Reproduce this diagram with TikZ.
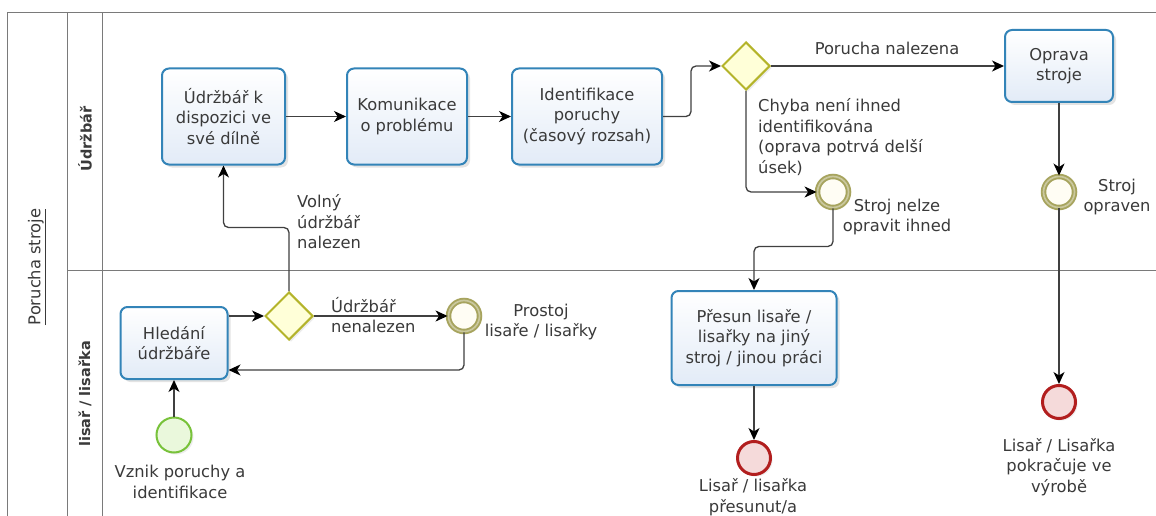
\documentclass[tikz,border=0pt]{standalone}
\usepackage{fontspec}
\setmainfont{DejaVu Sans}
\usetikzlibrary{arrows.meta,shadows,shapes.geometric,calc}

\definecolor{txt}{HTML}{3A3A3A}
\definecolor{poolline}{HTML}{7A7A7A}
\definecolor{taskline}{HTML}{3384B8}
\definecolor{taskfill}{HTML}{E2EBF7}
\definecolor{gwline}{HTML}{B4B42A}
\definecolor{gwfill}{HTML}{FFFFD8}
\definecolor{evline}{HTML}{A7A45E}
\definecolor{evfill}{HTML}{FFFDF4}
\definecolor{startline}{HTML}{78C23A}
\definecolor{startfill}{HTML}{EAF8DC}
\definecolor{endline}{HTML}{B21E1E}
\definecolor{endfill}{HTML}{F5DADA}
\definecolor{flow}{HTML}{404040}

\tikzset{
  lbl/.style={font=\fontsize{16.3}{20.5}\selectfont, text=txt, inner sep=0pt, align=center},
  lanelbl/.style={font=\fontsize{14.5}{18}\selectfont\bfseries, text=txt, rotate=90, inner sep=0pt},
  task/.style={draw=taskline, line width=2pt, rounded corners=7pt,
    top color=white, bottom color=taskfill,
    drop shadow={opacity=0.22, shadow xshift=3pt, shadow yshift=-3pt},
    font=\fontsize{16.3}{20.5}\selectfont, text=txt, align=center, inner sep=2pt},
  gateway/.style={diamond, aspect=1, draw=gwline, line width=2pt, fill=gwfill,
    minimum width=48pt, minimum height=48pt, inner sep=0pt,
    drop shadow={opacity=0.15, shadow xshift=2pt, shadow yshift=-2pt}},
  midevent/.style={circle, draw=evline, line width=1.9pt, double=evline!60, double distance=1.7pt,
    fill=evfill, minimum size=31pt, inner sep=0pt},
  startevent/.style={circle, draw=startline, line width=2pt, fill=startfill,
    minimum size=35pt, inner sep=0pt,
    drop shadow={opacity=0.15, shadow xshift=2pt, shadow yshift=-2pt}},
  endevent/.style={circle, draw=endline, line width=3pt, fill=endfill,
    minimum size=33pt, inner sep=0pt,
    drop shadow={opacity=0.15, shadow xshift=2pt, shadow yshift=-2pt}},
  flowline/.style={draw=flow, line width=1.3pt, rounded corners=5pt,
    -{Stealth[length=12pt, width=11pt, inset=3.5pt, color=black]}},
  pool/.style={draw=poolline, line width=1pt}
}

\begin{document}
\begin{tikzpicture}[x=1pt, y=-1pt]
\useasboundingbox (0,0) rectangle (1156,516);
\fill[white] (0,0) rectangle (1156,516);

% pool and lanes
\draw[pool] (7,516) -- (7,13) -- (1156,13);
\draw[pool] (67,13) -- (67,516);
\draw[pool] (102,13) -- (102,516);
\draw[pool] (67,270) -- (1156,270);

\node[lbl, rotate=90] (poolname) at (37,267) {\underline{Porucha stroje}};
\node[lanelbl] (laneA) at (85,139) {Údržbář};
\node[lanelbl] (laneB) at (85,394) {lisař / lisařka};

% tasks
\node[task, minimum width=123pt, minimum height=96pt] (t1) at (223.5,116.5)
  {Údržbář k\\dispozici ve\\své dílně};
\node[task, minimum width=120pt, minimum height=96pt] (t2) at (407,116.5)
  {Komunikace\\o problému};
\node[task, minimum width=150pt, minimum height=96pt] (t3) at (587,116.5)
  {Identifikace\\poruchy\\(časový rozsah)};
\node[task, minimum width=108pt, minimum height=72pt] (t4) at (1059,66)
  {Oprava\\stroje};
\node[task, minimum width=107pt, minimum height=72pt] (t5) at (174,343)
  {Hledání\\údržbáře};
\node[task, minimum width=165pt, minimum height=94pt] (t6) at (754,338)
  {Přesun lisaře /\\lisařky na jiný\\stroj / jinou práci};

% gateways
\node[gateway] (g1) at (289,316) {};
\node[gateway] (g2) at (746,66) {};

% events
\node[startevent] (start) at (174,435) {};
\node[midevent] (prostoj) at (464,316) {};
\node[midevent] (nelze) at (833,192) {};
\node[midevent] (opraven) at (1059,192) {};
\node[endevent] (end1) at (754,458) {};
\node[endevent] (end2) at (1059,402) {};

% sequence flows
\draw[flowline] (start.north) -- (t5.south);
\draw[flowline] (t5.east |- g1) -- (g1.west);
\draw[flowline] (g1.east) -- (prostoj.west);
\draw[flowline] (prostoj.south) |- ([yshift=-27pt]t5.east);
\draw[flowline] (g1.north) |- ([yshift=-62pt]t1.south) -- (t1.south);
\draw[flowline] (t1.east) -- (t2.west);
\draw[flowline] (t2.east) -- (t3.west);
\draw[flowline] (t3.east) -- ++(28,0) |- (g2.west);
\draw[flowline] (g2.east) -- (t4.west);
\draw[flowline] (g2.south) |- (nelze.west);
\draw[flowline] (nelze.south) -- ++(0,38) -| (t6.north);
\draw[flowline] (t6.south) -- (end1.north);
\draw[flowline] (t4.south) -- (opraven.north);
\draw[flowline] (opraven.south) -- (end2.north);

% labels
\node[lbl, align=left, anchor=west] (lvolny) at (297,222) {Volný\\údržbář\\nalezen};
\node[lbl, align=left, anchor=west] (lnenal) at (331,315) {Údržbář\\nenalezen};
\node[lbl] (lprostoj) at (541,322) {Prostoj\\lisaře / lisařky};
\node[lbl] (lvznik) at (180,482) {Vznik poruchy a\\identifikace};
\node[lbl] (lnalez) at (887,48) {Porucha nalezena};
\node[lbl, align=left, anchor=west] (lchyba) at (758,137)
  {Chyba není ihned\\identifikována\\(oprava potrvá delší\\úsek)};
\node[lbl] (lnelze) at (897,217) {Stroj nelze\\opravit ihned};
\node[lbl] (lopraven) at (1117,197) {Stroj\\opraven};
\node[lbl] (lpresun) at (753,497) {Lisař / lisařka\\přesunut/a};
\node[lbl] (lpokr) at (1059,467) {Lisař / Lisařka\\pokračuje ve\\výrobě};
\end{tikzpicture}
\end{document}
